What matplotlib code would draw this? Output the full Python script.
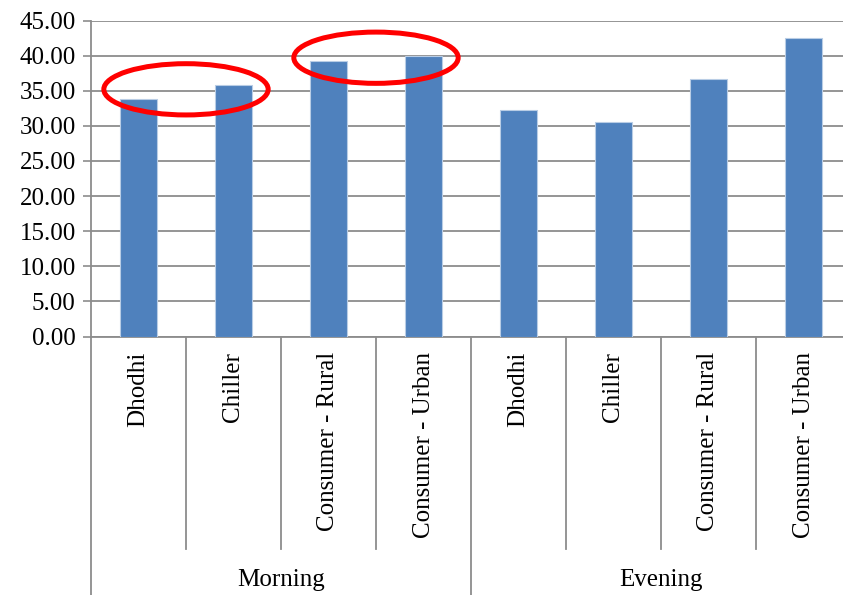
import numpy as np
import matplotlib
matplotlib.use("Agg")
import matplotlib.pyplot as plt
from matplotlib.patches import Ellipse
import matplotlib.transforms as mtransforms

# Data
categories = ["Dhodhi", "Chiller", "Consumer - Rural", "Consumer - Urban",
              "Dhodhi", "Chiller", "Consumer - Rural", "Consumer - Urban"]
values = [33.8, 35.8, 39.2, 40.0, 32.2, 30.6, 36.7, 42.5]
groups = ["Morning", "Evening"]
group_size = 4
yticks = [0, 5, 10, 15, 20, 25, 30, 35, 40, 45]

plt.rcParams['font.family'] = ['Liberation Serif', 'DejaVu Serif']

W, H = 843, 595
fig = plt.figure(figsize=(W / 100, H / 100), dpi=100)
ax_left, ax_right = 91, 851
ax_top, ax_bot = 20.5, 336.5
ax = fig.add_axes([ax_left / W, (H - ax_bot) / H,
                   (ax_right - ax_left) / W, (ax_bot - ax_top) / H])

grey = '#8c8c8c'
x = np.arange(len(values))
ax.bar(x, values, width=0.39, color='#4f81bd', edgecolor='#b9cde5',
       linewidth=0.8, zorder=3)

ax.set_xlim(-0.5, len(values) - 0.5)
ax.set_ylim(0, 45)
ax.set_yticks(yticks)
ax.set_yticklabels([f"{v:.2f}" for v in yticks], fontsize=18)
ax.yaxis.grid(True, color=grey, linewidth=1.3, zorder=0)
ax.tick_params(axis='y', length=6, width=1.2, color=grey, pad=5)

ax.set_xticks(x)
ax.set_xticklabels(categories, rotation=90, fontsize=18, va='top', ha='center')
ax.tick_params(axis='x', length=0, pad=11)

for s in ['top', 'right']:
    ax.spines[s].set_visible(False)
for s in ['left', 'bottom']:
    ax.spines[s].set_color(grey)
    ax.spines[s].set_linewidth(1.3)

# Category separators and group separators below the axis
trans = mtransforms.blended_transform_factory(ax.transData, ax.transAxes)
inner_bottom = -(549 - ax_bot) / (ax_bot - ax_top)
outer_bottom = -(600 - ax_bot) / (ax_bot - ax_top)
for b in np.arange(-0.5, len(values), 1.0):
    if int(b + 0.5) % group_size == 0:
        ax.plot([b, b], [0, outer_bottom], color=grey, lw=1.3,
                transform=trans, clip_on=False)
    else:
        ax.plot([b, b], [0, inner_bottom], color=grey, lw=1.3,
                transform=trans, clip_on=False)

group_y = -(580 - ax_bot) / (ax_bot - ax_top)
for gi, g in enumerate(groups):
    cx = gi * group_size + (group_size - 1) / 2
    ax.text(cx, group_y, g, transform=trans, ha='center', va='center',
            fontsize=18)

# Highlight ellipses
for cx, cy in [(0.5, 35.2), (2.5, 39.7)]:
    ax.add_patch(Ellipse((cx, cy), width=1.73, height=7.3, fill=False,
                         edgecolor='#ff0000', linewidth=3.6, zorder=5,
                         clip_on=False))

fig.savefig("out.png", dpi=100)
